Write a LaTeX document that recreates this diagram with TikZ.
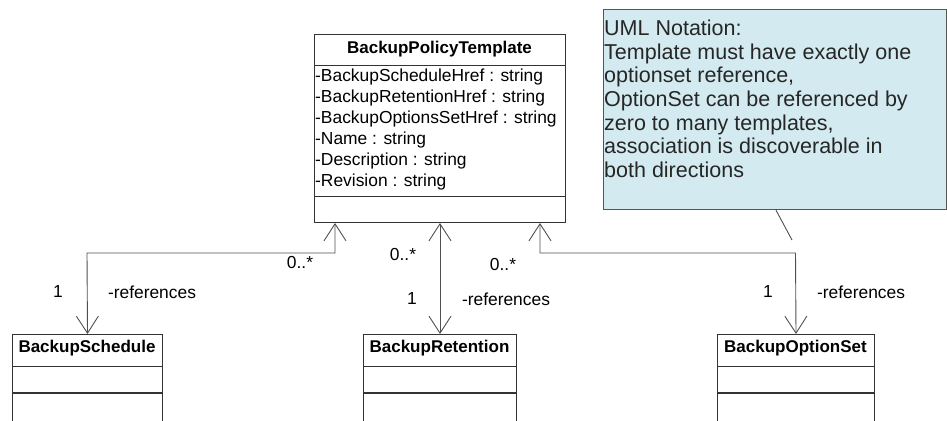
\documentclass[tikz,border=0pt]{standalone}
\usepackage{fontspec}
\setmainfont{Liberation Sans}
\usetikzlibrary{arrows.meta,calc}
\definecolor{boxline}{HTML}{333333}
\definecolor{wireline}{HTML}{505050}
\definecolor{notefill}{HTML}{D3EBF0}
\definecolor{noteline}{HTML}{555555}
\tikzset{
  x=1pt, y=-1pt,
  classbox/.style={draw=boxline, line width=1pt, fill=white, inner sep=0pt, anchor=north west},
  compline/.style={draw=boxline, line width=1pt},
  classname/.style={font=\fontsize{17}{20}\selectfont\bfseries, inner sep=0pt},
  attr/.style={font=\fontsize{17.4}{21}\selectfont, inner sep=0pt, anchor=west},
  lbl/.style={font=\fontsize{17.4}{21}\selectfont, inner sep=0pt},
  assoc/.style={draw=wireline, line width=0.9pt,
    {Straight Barb[length=17pt,width=22pt,line width=0.9pt]}-{Straight Barb[length=17pt,width=22pt,line width=0.9pt]}},
  notebox/.style={draw=noteline, line width=1.2pt, fill=notefill, anchor=north west, inner sep=0pt},
  notetext/.style={font=\fontsize{21.5}{23.6}\selectfont, inner sep=0pt, align=left, anchor=north west, text=black!85}
}
\begin{document}
\begin{tikzpicture}
\useasboundingbox (0,0) rectangle (947,420);

% ---- template class ----
\node[classbox, minimum width=251pt, minimum height=188pt] (tpl) at (314,34) {};
\draw[compline] (314,66) -- (565,66);
\draw[compline] (314,196) -- (565,196);
\node[classname] (tplname) at (439.5,49) {BackupPolicyTemplate};
\node[attr] (a1) at (315,77)  {-BackupScheduleHref : string};
\node[attr] (a2) at (315,98)  {-BackupRetentionHref : string};
\node[attr] (a3) at (315,119) {-BackupOptionsSetHref : string};
\node[attr] (a4) at (315,140) {-Name : string};
\node[attr] (a5) at (315,161) {-Description : string};
\node[attr] (a6) at (315,182) {-Revision : string};

% ---- referenced classes (cut at the lower edge) ----
\node[classbox, minimum width=150pt, minimum height=100pt] (sched) at (12,334) {};
\draw[compline] (12,366) -- (162,366);
\draw[compline, line width=1.6pt] (12,393) -- (162,393);
\node[classname] (schedname) at (87,348) {BackupSchedule};

\node[classbox, minimum width=153pt, minimum height=100pt] (ret) at (363,334) {};
\draw[compline] (363,366) -- (516,366);
\draw[compline, line width=1.6pt] (363,393) -- (516,393);
\node[classname] (retname) at (439.5,348) {BackupRetention};

\node[classbox, minimum width=157pt, minimum height=100pt] (opt) at (717,334) {};
\draw[compline] (717,366) -- (874,366);
\draw[compline, line width=1.6pt] (717,393) -- (874,393);
\node[classname] (optname) at (795.5,348) {BackupOptionSet};

% ---- associations ----
\coordinate (tplL) at ($(tpl.south west)+(21,0)$);
\coordinate (tplR) at ($(tpl.south west)+(226,0)$);
\coordinate (bendL) at (87,253);
\coordinate (bendR) at (795.5,253);
\draw[assoc] (tplL) |- (bendL) -- (sched.north);
\draw[assoc] (ret.north |- tpl.south) -- (ret.north);
\draw[assoc] (tplR) |- (bendR) -- (opt.north);

% multiplicities and role names
\node[lbl] (m1a) at (300,263) {0..*};
\node[lbl] (m1b) at (58,292)  {1};
\node[lbl] (r1)  at (152,292) {-references};
\node[lbl] (m2a) at (403,255) {0..*};
\node[lbl] (m2b) at (412,299) {1};
\node[lbl] (r2)  at (506,299) {-references};
\node[lbl] (m3a) at (503,265) {0..*};
\node[lbl] (m3b) at (768,292) {1};
\node[lbl] (r3)  at (861,292) {-references};

% ---- note ----
\node[notebox, minimum width=343pt, minimum height=200pt] (note) at (603,9) {};
\node[notetext] (notetxt) at (604,20) {UML Notation:\\Template must have exactly one\\optionset reference,\\OptionSet can be referenced by\\zero to many templates,\\association is discoverable in\\both directions};
\coordinate (noteend) at (792,240);
\draw[draw=wireline, line width=0.9pt] ($(note.south west)+(173,0)$) -- (noteend);
\end{tikzpicture}
\end{document}
